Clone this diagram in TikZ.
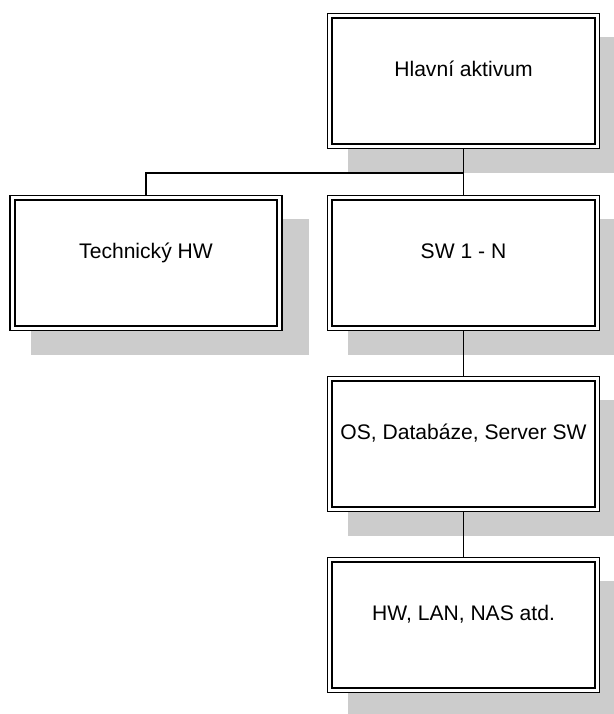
\documentclass[tikz,border=0pt]{standalone}
\usepackage{fontspec}
\setmainfont{Liberation Sans}
\usetikzlibrary{shadows}
\definecolor{shadowgray}{RGB}{204,204,204}

\begin{document}
\begin{tikzpicture}[x=0.02cm,y=0.02cm,
  asset/.style={draw=black,fill=white,double=white,line width=0.95pt,double distance=1.8pt,
    outer sep=1.85pt,inner sep=1pt,minimum width=5.35cm,minimum height=2.61cm,
    text height=8.6pt,text depth=13.8pt,font=\fontsize{12}{14}\selectfont,
    drop shadow={shadow xshift=0.46cm,shadow yshift=-0.46cm,shadow scale=1.04,
      fill=shadowgray,opacity=1}},
  link/.style={draw=black,line width=0.8pt}]
\useasboundingbox (0,0) rectangle (614,-714);
\node [asset] (main) at (463.5,-81) {Hlavní aktivum};
\node [asset] (tech) at (146,-263) {Technický HW};
\node [asset] (sw) at (463.5,-263) {SW 1 - N};
\node [asset] (os) at (463.5,-444) {OS, Databáze, Server SW};
\node [asset] (net) at (463.5,-625) {HW, LAN, NAS atd.};
\coordinate (fork) at (463.5,-173);
\draw [link] (main.south) -- (sw.north);
\draw [link] (tech.north) |- (fork);
\draw [link] (sw.south) -- (os.north);
\draw [link] (os.south) -- (net.north);
\end{tikzpicture}
\end{document}
